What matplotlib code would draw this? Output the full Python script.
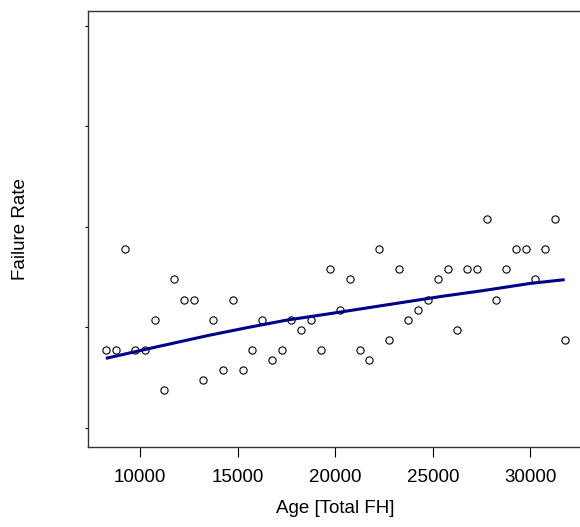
import matplotlib
matplotlib.use('Agg')
import matplotlib.pyplot as plt

plt.rcParams['font.family'] = ['Liberation Sans', 'DejaVu Sans']

# total flight hours of each observation
age_fh = [8250, 8750, 9250, 9750, 10250, 10750, 11250, 11750, 12250, 12750,
          13250, 13750, 14250, 14750, 15250, 15750, 16250, 16750, 17250, 17750,
          18250, 18750, 19250, 19750, 20250, 20750, 21250, 21750, 22250, 22750,
          23250, 23750, 24250, 24750, 25250, 25750, 26250, 26750, 27250, 27750,
          28250, 28750, 29250, 29750, 30250, 30750, 31250, 31750]

failure_rate = [0.775, 0.775, 1.775, 0.775, 0.775, 1.075, 0.375, 1.475, 1.275, 1.275,
                0.475, 1.075, 0.575, 1.275, 0.575, 0.775, 1.075, 0.675, 0.775, 1.075,
                0.975, 1.075, 0.775, 1.575, 1.175, 1.475, 0.775, 0.675, 1.775, 0.875,
                1.575, 1.075, 1.175, 1.275, 1.475, 1.575, 0.975, 1.575, 1.575, 2.075,
                1.275, 1.575, 1.775, 1.775, 1.475, 1.775, 2.075, 0.875]

# fitted trend
fit_age = [8250, 10500, 13500, 15500, 17500, 19500, 21500, 23500, 25500, 27500, 30000, 31750]
fit_rate = [0.690, 0.789, 0.918, 0.996, 1.070, 1.128, 1.188, 1.248, 1.308, 1.362, 1.436, 1.473]

y_ticks = [0, 1, 2, 3, 4]
x_ticks = [10000, 15000, 20000, 25000, 30000]

fig = plt.figure(figsize=(5.8, 5.27), dpi=100)
# axes runs slightly past the right edge, as in the source image
ax = fig.add_axes([87.5 / 580, 80 / 527, 495.5 / 580, 436 / 527])

ax.plot(age_fh, failure_rate, 'o', mfc='none', mec='black', ms=5.2, mew=0.8)
ax.plot(fit_age, fit_rate, color='#00008B', lw=2.2, solid_capstyle='butt')

ax.set_xlim(7310, 32690)
ax.set_ylim(-0.192, 4.146)

ax.set_xticks(x_ticks)
ax.set_xticklabels([str(t) for t in x_ticks])
ax.set_yticks(y_ticks)
ax.set_yticklabels([])

ax.tick_params(axis='x', length=7.5, width=0.8, pad=8, labelsize=13.5, direction='out')
ax.tick_params(axis='y', length=2.5, width=0.8, direction='out')

for s in ax.spines.values():
    s.set_linewidth(1.0)
    s.set_color('#333333')

ax.set_xlabel('Age [Total FH]', fontsize=13.5)
ax.xaxis.set_label_coords(0.5, -0.14)
ax.xaxis.label.set_va('center')
ax.set_ylabel('Failure Rate', fontsize=13.5)
ax.yaxis.set_label_coords(-0.136, 0.5)
ax.yaxis.label.set_va('center')

fig.savefig('out.png', dpi=100)
